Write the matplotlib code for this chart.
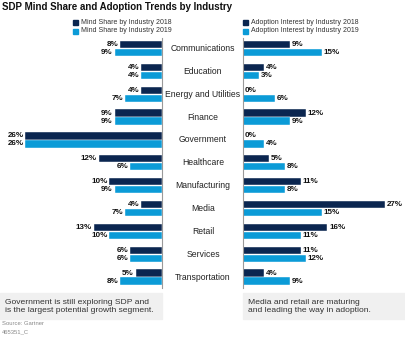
import matplotlib
matplotlib.use("Agg")
import matplotlib.pyplot as plt
from matplotlib.patches import Rectangle

plt.rcParams['font.family'] = ['Liberation Sans', 'DejaVu Sans']

categories = ["Communications", "Education", "Energy and Utilities", "Finance", "Government",
              "Healthcare", "Manufacturing", "Media", "Retail", "Services", "Transportation"]
mind_2018 = [8, 4, 4, 9, 26, 12, 10, 4, 13, 6, 5]
mind_2019 = [9, 4, 7, 9, 26, 6, 9, 7, 10, 6, 8]
adopt_2018 = [9, 4, 0, 12, 0, 5, 11, 27, 16, 11, 4]
adopt_2019 = [15, 3, 6, 9, 4, 8, 8, 15, 11, 12, 9]
legend_left = ["Mind Share by Industry 2018", "Mind Share by Industry 2019"]
legend_right = ["Adoption Interest by Industry 2018", "Adoption Interest by Industry 2019"]

DARK = "#0b2650"
LIGHT = "#0b9bd7"
W, H = 406, 341

fig = plt.figure(figsize=(W / 100, H / 100), dpi=100)

def fx(px):
    return px / W

def fy(py):
    return 1 - py / H

ax_top, ax_bot = 38, 288
axL = fig.add_axes([fx(20), fy(ax_bot), fx(142), (ax_bot - ax_top) / H])
axR = fig.add_axes([fx(243), fy(ax_bot), fx(142), (ax_bot - ax_top) / H])

ypos = list(range(len(categories)))
bh = 0.32
off = 0.175
for ax, s18, s19, side in [(axL, mind_2018, mind_2019, 'L'), (axR, adopt_2018, adopt_2019, 'R')]:
    ax.barh([y - off for y in ypos], s18, height=bh, color=DARK, edgecolor='white', linewidth=0.3)
    ax.barh([y + off for y in ypos], s19, height=bh, color=LIGHT, edgecolor='white', linewidth=0.3)
    ax.set_xlim(27, 0) if side == 'L' else ax.set_xlim(0, 27)
    ax.set_ylim(10.48, -0.46)
    ax.set_xticks([]); ax.set_yticks([])
    for sp in ax.spines.values():
        sp.set_visible(False)
    keep = 'right' if side == 'L' else 'left'
    ax.spines[keep].set_visible(True)
    ax.spines[keep].set_color('#9a9a9a')
    ax.spines[keep].set_linewidth(0.8)
    ax.patch.set_alpha(0)
    for y, a, b in zip(ypos, s18, s19):
        for v, yy in [(a, y - off), (b, y + off)]:
            ax.text(v + 0.35, yy, f"{v}%", ha='right' if side == 'L' else 'left', va='center',
                    fontsize=5.8, fontweight='bold', color='#111111')

for i, c in enumerate(categories):
    yc = 48.5 + i * 22.85
    fig.text(fx(203), fy(yc), c, ha='center', va='center', fontsize=6.2, color='#222222')

fig.text(fx(2), fy(6.5), "SDP Mind Share and Adoption Trends by Industry", ha='left', va='center',
         fontsize=7.05, fontweight='bold', color='#111111')

# legends
for (x0, labels) in [(73, legend_left), (243, legend_right)]:
    for j, (lab, col) in enumerate(zip(labels, [DARK, LIGHT])):
        yc = 22 + j * 9
        fig.patches.append(Rectangle((fx(x0), fy(yc + 2.5)), fx(5), 5 / H, color=col,
                                     transform=fig.transFigure, figure=fig))
        fig.text(fx(x0 + 8), fy(yc), lab, ha='left', va='center', fontsize=5, color='#333333')

# annotation boxes
for x0, txt in [(0, "Government is still exploring SDP and\nis the largest potential growth segment."),
                (243, "Media and retail are maturing\nand leading the way in adoption.")]:
    fig.patches.append(Rectangle((fx(x0), fy(319)), fx(162), 26 / H, color='#f0f0f0',
                                 transform=fig.transFigure, figure=fig, zorder=0))
    fig.text(fx(x0 + 5), fy(306), txt, ha='left', va='center', fontsize=6.1, color='#333333',
             linespacing=1.2)

fig.text(fx(2), fy(323.5), "Source: Gartner", ha='left', va='center', fontsize=4.2, color='#888888')
fig.text(fx(2), fy(332), "465351_C", ha='left', va='center', fontsize=4.2, color='#888888')

fig.savefig("out.png", dpi=100)
